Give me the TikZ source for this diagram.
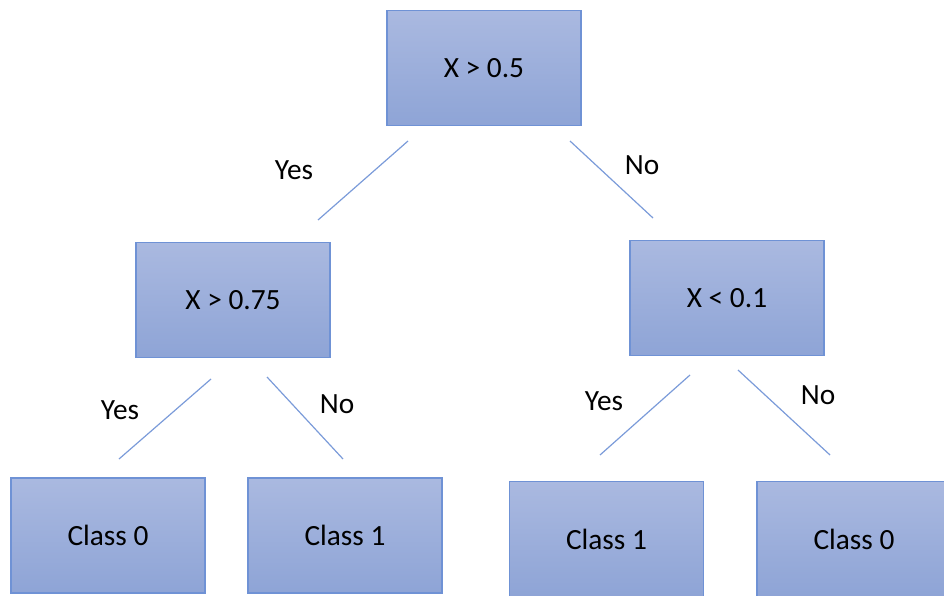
\documentclass[tikz,border=0pt]{standalone}
\usepackage{fontspec}
\setmainfont{Carlito}
\usepackage{tikz}
\definecolor{boxtop}{HTML}{AAB9E0}
\definecolor{boxbot}{HTML}{8EA4D6}
\definecolor{boxedge}{HTML}{6F92D5}
\definecolor{edgeline}{HTML}{7B9BD9}
\tikzset{
  treebox/.style={draw=boxedge, line width=1.2pt, top color=boxtop, bottom color=boxbot,
    minimum width=145.5pt, minimum height=86.5pt, inner sep=0pt,
    font=\fontsize{22}{26}\selectfont},
  branch/.style={draw=edgeline, line width=0.9pt},
  answer/.style={font=\fontsize{22}{26}\selectfont}
}

\begin{document}
\begin{tikzpicture}[x=0.75pt,y=-0.75pt]
\useasboundingbox (0,0) rectangle (944,595);
\clip (0,0) rectangle (944,595);

\node[treebox] (root) at (484,68) {X > 0.5}; % first split
\node[treebox] (left) at (233,300) {X > 0.75};
\node[treebox] (right) at (727,298) {X < 0.1};

\node[treebox] (leafa) at (108,535.5) {Class 0}; % leaves
\node[treebox] (leafb) at (345,535.5) {Class 1};
\node[treebox] (leafc) at (606.5,539) {Class 1};
\node[treebox] (leafd) at (854,539) {Class 0};

\coordinate (ra) at (408,141); \coordinate (rb) at (318,220);
\coordinate (rc) at (570,141); \coordinate (rd) at (653,218);
\coordinate (la) at (211,379); \coordinate (lb) at (119,459);
\coordinate (lc) at (267,377); \coordinate (ld) at (343,459);
\coordinate (qa) at (690,375); \coordinate (qb) at (600,455);
\coordinate (qc) at (738,370); \coordinate (qd) at (830,455);

\draw[branch] (ra) -- (rb); % yes
\draw[branch] (rc) -- (rd); % no
\draw[branch] (la) -- (lb);
\draw[branch] (lc) -- (ld);
\draw[branch] (qa) -- (qb);
\draw[branch] (qc) -- (qd);

\node[answer] (ryes) at (294,170) {Yes};
\node[answer] (rno) at (642,165) {No};
\node[answer] (lyes) at (120,410) {Yes};
\node[answer] (lno) at (337,404) {No};
\node[answer] (qyes) at (604,401) {Yes};
\node[answer] (qno) at (818,395) {No};

\end{tikzpicture}
\end{document}
